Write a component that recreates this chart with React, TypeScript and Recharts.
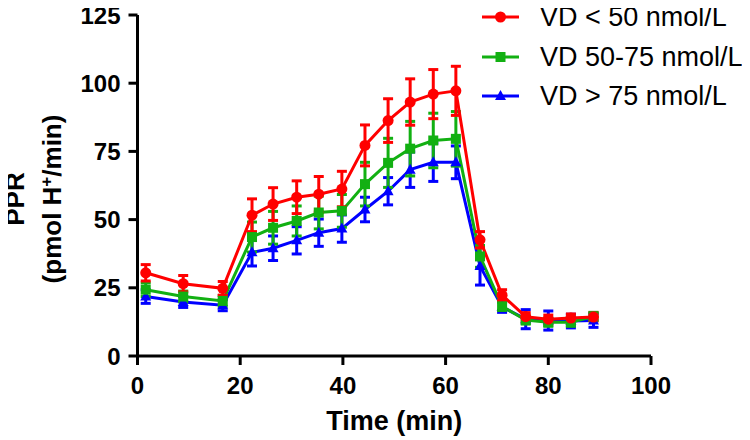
import React from 'react';
import { LineChart, Line, XAxis, YAxis, ErrorBar } from 'recharts';

const times = [1.6, 8.9, 16.6, 22.3, 26.4, 31, 35.3, 39.8, 44.3, 48.8, 53.1, 57.6, 62, 66.7, 71, 75.6, 80, 84.4, 88.8];

const lowVD = [30.5, 26.5, 24.8, 51.6, 55.7, 58.2, 59.3, 61.2, 77.2, 86.3, 93.1, 96, 97.2, 42.6, 22.3, 14.4, 13.5, 13.9, 14.3];
const lowVDErr = [3, 3, 2.5, 6, 6, 6, 6.5, 6.5, 7.5, 8, 8.5, 9, 9, 3, 2, 1.5, 1.5, 1.5, 1.5];

const midVD = [24.3, 21.8, 20.2, 43.6, 47, 49.5, 52.6, 53.2, 63, 70.8, 76, 79, 79.6, 36.5, 18.2, 13.2, 12.4, 12.4, 14.5];
const midVDErr = [2.5, 2, 2, 5.5, 6, 5.5, 6, 6, 8, 9, 10, 10, 10, 4, 1.5, 1.5, 1.5, 1.5, 1.5];

const highVD = [21.8, 19.8, 18.6, 38, 39.5, 42.4, 45.2, 46.7, 53.7, 60.4, 68.3, 71, 71, 33, 18, 13.5, 13, 12.8, 13];
const highVDErr = [2.5, 2, 2, 5, 4.5, 5, 5, 5, 4.5, 5, 6.5, 7, 6, 7, 2, 3.5, 3.5, 2.5, 2.5];

const xTicks = [0, 20, 40, 60, 80, 100];
const yTicks = [0, 25, 50, 75, 100, 125];

const seriesNames = ['VD < 50 nmol/L', 'VD 50-75 nmol/L', 'VD > 75 nmol/L'];
const seriesColors = ['#ff0000', '#12b012', '#0000ff'];
const seriesShapes = ['circle', 'square', 'triangle'];

const data = times.map((t, i) => ({
  t,
  low: lowVD[i],
  lowErr: lowVDErr[i],
  mid: midVD[i],
  midErr: midVDErr[i],
  high: highVD[i],
  highErr: highVDErr[i],
}));

const FONT = '"Liberation Sans", Arial, Helvetica, sans-serif';

function Marker({ shape, cx, cy, color }: { shape: string; cx: number; cy: number; color: string }) {
  if (shape === 'circle') return <circle cx={cx} cy={cy} r={5.5} fill={color} stroke="none" />;
  if (shape === 'square') return <rect x={cx - 5} y={cy - 5} width={10} height={10} fill={color} stroke="none" />;
  return <polygon points={`${cx},${cy - 6} ${cx + 5.5},${cy + 4} ${cx - 5.5},${cy + 4}`} fill={color} stroke="none" />;
}

const makeDot = (shape: string, color: string) => (props: any) => {
  const { cx, cy, index } = props;
  if (cx == null || cy == null) return <g key={`d-${index}`} />;
  return (
    <g key={`${shape}-${index}`}>
      <Marker shape={shape} cx={cx} cy={cy} color={color} />
    </g>
  );
};

const XLabel = (props: any) => {
  const vb = props.viewBox || { x: 0, y: 0, width: 0, height: 0 };
  return (
    <text
      x={vb.x + vb.width / 2}
      y={vb.y + vb.height - 10}
      textAnchor="middle"
      fontFamily={FONT}
      fontWeight="bold"
      fontSize={27}
      fill="#000"
    >
      Time (min)
    </text>
  );
};

const tickStyle = { fill: '#000', fontSize: 24, fontWeight: 'bold', fontFamily: FONT };

export default function App() {
  const labelCy = 199;
  return (
    <div style={{ position: 'relative', width: 750, height: 440, margin: '-8px 0 0 -8px' }}>
      <LineChart
        width={750}
        height={440}
        data={data}
        margin={{ top: 15, right: 99, left: 0, bottom: 0 }}
      >
        <XAxis
          dataKey="t"
          type="number"
          domain={[0, 100]}
          ticks={xTicks}
          interval={0}
          height={84}
          tickSize={9}
          tickMargin={12}
          axisLine={{ stroke: '#000', strokeWidth: 3 }}
          tickLine={{ stroke: '#000', strokeWidth: 3 }}
          tick={tickStyle}
          label={<XLabel />}
        />
        <YAxis
          type="number"
          domain={[0, 125]}
          ticks={yTicks}
          interval={0}
          width={137.5}
          tickSize={9}
          tickMargin={8}
          axisLine={{ stroke: '#000', strokeWidth: 3 }}
          tickLine={{ stroke: '#000', strokeWidth: 3 }}
          tick={tickStyle}
        />
        <Line
          dataKey="high"
          name={seriesNames[2]}
          stroke={seriesColors[2]}
          strokeWidth={3}
          isAnimationActive={false}
          dot={makeDot(seriesShapes[2], seriesColors[2])}
          activeDot={false}
        >
          <ErrorBar dataKey="highErr" direction="y" width={5} strokeWidth={3} stroke={seriesColors[2]} isAnimationActive={false} />
        </Line>
        <Line
          dataKey="mid"
          name={seriesNames[1]}
          stroke={seriesColors[1]}
          strokeWidth={3}
          isAnimationActive={false}
          dot={makeDot(seriesShapes[1], seriesColors[1])}
          activeDot={false}
        >
          <ErrorBar dataKey="midErr" direction="y" width={5} strokeWidth={3} stroke={seriesColors[1]} isAnimationActive={false} />
        </Line>
        <Line
          dataKey="low"
          name={seriesNames[0]}
          stroke={seriesColors[0]}
          strokeWidth={3}
          isAnimationActive={false}
          dot={makeDot(seriesShapes[0], seriesColors[0])}
          activeDot={false}
        >
          <ErrorBar dataKey="lowErr" direction="y" width={5} strokeWidth={3} stroke={seriesColors[0]} isAnimationActive={false} />
        </Line>
      </LineChart>
      <svg width={80} height={440} style={{ position: 'absolute', left: 0, top: 0, pointerEvents: 'none' }}>
        <text
          x={24}
          y={labelCy}
          transform={`rotate(-90 24 ${labelCy})`}
          textAnchor="middle"
          fontFamily={FONT}
          fontWeight="bold"
          fontSize={26}
          fill="#000"
        >
          PPR
        </text>
        <text
          x={61}
          y={labelCy}
          transform={`rotate(-90 61 ${labelCy})`}
          textAnchor="middle"
          fontFamily={FONT}
          fontWeight="bold"
          fontSize={26}
          fill="#000"
        >
          (pmol H
          <tspan dy={-9} fontSize={17}>+</tspan>
          <tspan dy={9}>/min)</tspan>
        </text>
      </svg>
      <div style={{ position: 'absolute', left: 482, top: 0 }}>
        {seriesNames.map((name, i) => (
          <div
            key={name}
            style={{
              position: 'absolute',
              left: 0,
              top: -3 + i * 39.5,
              height: 40,
              display: 'flex',
              alignItems: 'center',
              whiteSpace: 'nowrap',
            }}
          >
            <svg width={38} height={16} style={{ display: 'block' }}>
              <line x1={0} y1={8} x2={37} y2={8} stroke={seriesColors[i]} strokeWidth={3} />
              <Marker shape={seriesShapes[i]} cx={18.5} cy={8} color={seriesColors[i]} />
            </svg>
            <span
              style={{
                marginLeft: 20,
                fontFamily: FONT,
                fontSize: 27,
                color: '#000',
                lineHeight: '40px',
              }}
            >
              {name}
            </span>
          </div>
        ))}
      </div>
    </div>
  );
}
